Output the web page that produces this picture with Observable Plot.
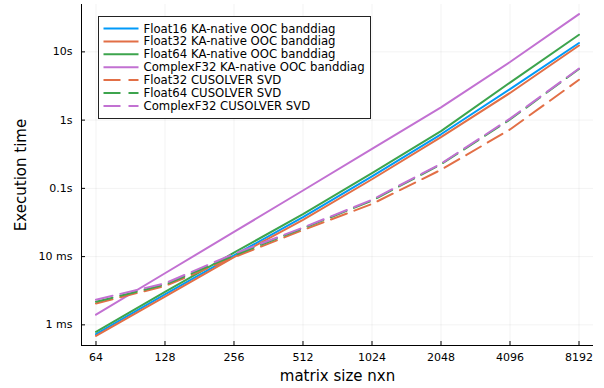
<!DOCTYPE html>
<html><head><meta charset="utf-8">
<script src="https://cdn.jsdelivr.net/npm/d3@7"></script>
<script src="https://cdn.jsdelivr.net/npm/@observablehq/plot@0.6"></script>
<style>body{margin:0;background:#fff} svg{display:block}</style>
</head><body><div id="chart"></div>
<script>
// matrix sizes (n for n x n)
const sizes = [64, 128, 256, 512, 1024, 2048, 4096, 8192];
// execution times in seconds
const f16KA  = [0.00073, 0.0028, 0.0104, 0.0378, 0.150, 0.62, 2.85, 13.5];
const f32KA  = [0.00069, 0.0026, 0.0098, 0.0346, 0.136, 0.565, 2.5, 12.4];
const f64KA  = [0.00079, 0.00304, 0.0114, 0.042, 0.167, 0.69, 3.55, 17.8];
const c32KA  = [0.00141, 0.0057, 0.023, 0.093, 0.38, 1.54, 7.1, 35.7];
const f32SVD = [0.00206, 0.00371, 0.0098, 0.0245, 0.059, 0.187, 0.73, 3.9];
const f64SVD = [0.00218, 0.00388, 0.0104, 0.026, 0.066, 0.225, 1.02, 5.6];
const c32SVD = [0.00234, 0.00406, 0.0110, 0.0266, 0.068, 0.23, 1.05, 5.7];

const seriesNames = [
  "Float16 KA-native OOC banddiag",
  "Float32 KA-native OOC banddiag",
  "Float64 KA-native OOC banddiag",
  "ComplexF32 KA-native OOC banddiag",
  "Float32 CUSOLVER SVD",
  "Float64 CUSOLVER SVD",
  "ComplexF32 CUSOLVER SVD"
];
const seriesValues = [f16KA, f32KA, f64KA, c32KA, f32SVD, f64SVD, c32SVD];
const seriesColors = ["#009af9", "#e26f46", "#3da44d", "#c271d2", "#e26f46", "#3da44d", "#c271d2"];
const seriesDashed = [false, false, false, false, true, true, true];

const yTicks = [0.001, 0.01, 0.1, 1, 10];
const yTickLabels = ["1 ms", "10 ms", "0.1s", "1s", "10s"];
const xLabel = "matrix size nxn";
const yLabel = "Execution time";

const DASH = "17,8";

const rows = [];
seriesNames.forEach((name, i) => {
  seriesValues[i].forEach((v, j) => rows.push({series: name, idx: i, size: sizes[j], time: v}));
});

// Plots.jl-like 3% padding on log axes
function padLog(ext, base) {
  const l = ext.map(v => Math.log(v) / Math.log(base));
  const p = (l[1] - l[0]) * 0.03;
  return [Math.pow(base, l[0] - p), Math.pow(base, l[1] + p)];
}
const xDomain = padLog(d3.extent(sizes), 2);
const yDomain = padLog(d3.extent(rows, d => d.time), 10);

const lineMarks = seriesNames.map((name, i) =>
  Plot.line(rows.filter(r => r.idx === i), {
    x: "size", y: "time",
    stroke: seriesColors[i], strokeWidth: 2,
    strokeDasharray: seriesDashed[i] ? DASH : null
  })
);

const chart = Plot.plot({
  width: 604, height: 388,
  marginLeft: 81, marginRight: 11, marginTop: 4, marginBottom: 43,
  style: {fontFamily: "DejaVu Sans", fontSize: "11px", background: "white", color: "black"},
  x: {type: "log", base: 2, domain: xDomain},
  y: {type: "log", domain: yDomain},
  marks: [
    Plot.gridX(sizes, {stroke: "black", strokeOpacity: 0.1, strokeWidth: 0.5}),
    Plot.gridY(yTicks, {stroke: "black", strokeOpacity: 0.1, strokeWidth: 0.5}),
    ...lineMarks,
    Plot.axisX({ticks: sizes, tickFormat: d => String(d), tickSize: -4, tickPadding: 12, label: null, stroke: "black", fontSize: 11}),
    Plot.axisY({ticks: yTicks, tickFormat: (d, i) => yTickLabels[yTicks.indexOf(d)], tickSize: -4, tickPadding: 13, label: null, fontSize: 11}),
    Plot.ruleX([xDomain[0]], {stroke: "black", strokeWidth: 1}),
    Plot.ruleY([yDomain[0]], {stroke: "black", strokeWidth: 1}),
    Plot.text([yLabel], {frameAnchor: "left", dx: -60, rotate: -90, text: d => d, fontSize: 15, fill: "black", lineAnchor: "middle", textAnchor: "middle"}),
    Plot.text([xLabel], {frameAnchor: "bottom", dy: 31, text: d => d, fontSize: 15, fill: "black", lineAnchor: "middle", textAnchor: "middle"})
  ]
});
document.getElementById("chart").appendChild(chart);

// legend (Plots.jl style box, top-left)
const svg = d3.select(chart);
const lg = svg.append("g").attr("transform", "translate(98.5,16.5)").attr("text-anchor", "start");
lg.append("rect").attr("width", 272).attr("height", 102)
  .attr("fill", "white").attr("stroke", "#222").attr("stroke-width", 1);
seriesNames.forEach((name, i) => {
  const y = 12 + i * 12.9;
  lg.append("line").attr("x1", 5).attr("x2", 40).attr("y1", y).attr("y2", y)
    .attr("stroke", seriesColors[i]).attr("stroke-width", 2)
    .attr("stroke-dasharray", seriesDashed[i] ? DASH : null);
  lg.append("text").attr("x", 45).attr("y", y).attr("dy", "0.35em")
    .attr("text-anchor", "start")
    .attr("font-family", "DejaVu Sans").attr("font-size", 11.7).attr("fill", "black").text(name);
});
</script>
</body></html>
